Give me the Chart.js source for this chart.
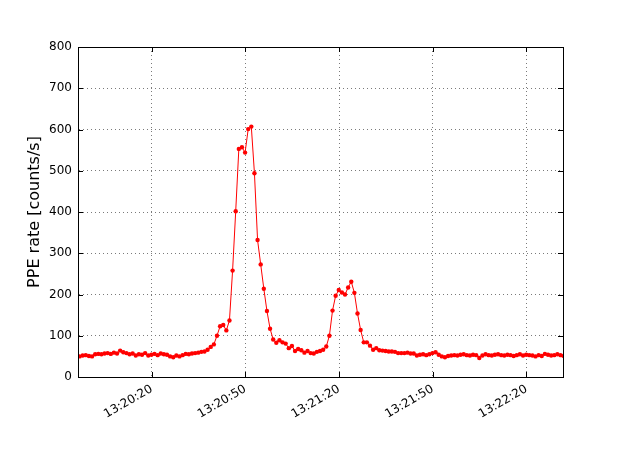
<!DOCTYPE html>
<html>
<head>
<meta charset="utf-8">
<script src="https://cdn.jsdelivr.net/npm/chart.js@4"></script>
<style>
  body { margin: 0; background: #fff; }
</style>
</head>
<body>
<canvas id="rateChart" width="627" height="472"></canvas>
<script>
// PPE rate, one sample per second
const startTime = "13:19:56.9";
const stepSec = 1;
const rateValues = [
  50, 52, 53, 51, 50, 55, 56, 55, 57, 58,
  56, 59, 57, 64, 60, 58, 55, 57, 52, 55,
  54, 58, 52, 54, 56, 53, 57, 55, 54, 50,
  48, 52, 50, 53, 56, 55, 57, 58, 59, 61,
  62, 66, 73, 79, 100, 123, 126, 113, 137, 258,
  402, 553, 557, 544, 601, 607, 494, 332, 273, 214,
  160, 117, 91, 83, 89, 84, 81, 70, 75, 63,
  68, 65, 59, 63, 58, 57, 61, 63, 66, 74,
  100, 161, 197, 211, 205, 200, 217, 231, 204, 154,
  114, 84, 84, 76, 66, 70, 65, 64, 63, 62,
  62, 61, 58, 58, 58, 59, 57, 57, 52, 54,
  55, 53, 55, 58, 60, 54, 50, 48, 51, 52,
  53, 52, 54, 55, 53, 52, 54, 53, 46, 52,
  55, 53, 52, 54, 55, 53, 52, 54, 53, 51,
  53, 55, 52, 54, 53, 52, 50, 53, 51, 56,
  54, 52, 53, 55, 53, 51
];
// visible time range of the axis
const xMinTime = "13:19:56.4";
const xMaxTime = "13:22:31.7";
const xTickLabels = ["13:20:20", "13:20:50", "13:21:20", "13:21:50", "13:22:20"];
const yTicks = [0, 100, 200, 300, 400, 500, 600, 700, 800];

const toSec = (s) => {
  const [h, m, sec] = s.split(":").map(Number);
  return h * 3600 + m * 60 + sec;
};
const pad = (n) => String(n).padStart(2, "0");
const fmtTime = (v) => {
  const t = Math.round(v);
  return pad(Math.floor(t / 3600)) + ":" + pad(Math.floor(t / 60) % 60) + ":" + pad(t % 60);
};

const t0 = toSec(startTime);
const points = rateValues.map((v, i) => ({ x: t0 + i * stepSec, y: v }));

// box round the plot and inward tick marks, as in the original
const frame = {
  id: "frame",
  afterDraw(chart) {
    const { ctx, chartArea: a, scales } = chart;
    ctx.save();
    ctx.strokeStyle = "#000";
    ctx.lineWidth = 1;
    ctx.beginPath();
    scales.x.ticks.forEach((t) => {
      const px = Math.round(scales.x.getPixelForValue(t.value)) + 0.5;
      ctx.moveTo(px, a.bottom); ctx.lineTo(px, a.bottom - 5);
      ctx.moveTo(px, a.top); ctx.lineTo(px, a.top + 5);
    });
    scales.y.ticks.forEach((t) => {
      const py = Math.round(scales.y.getPixelForValue(t.value)) + 0.5;
      ctx.moveTo(a.left, py); ctx.lineTo(a.left + 5, py);
      ctx.moveTo(a.right, py); ctx.lineTo(a.right - 5, py);
    });
    ctx.stroke();
    ctx.strokeRect(Math.round(a.left) + 0.5, Math.round(a.top) + 0.5,
      Math.round(a.right - a.left), Math.round(a.bottom - a.top));
    ctx.restore();
  },
};

const gridStyle = {
  color: "#7a7a7a",
  lineWidth: 1,
  drawTicks: false,
};
// in v4 border.dash sets the dash of the grid lines
const axisBorder = { display: true, color: "#000", dash: [1, 3] };

new Chart(document.getElementById("rateChart").getContext("2d"), {
  type: "line",
  data: {
    datasets: [
      {
        data: points,
        borderColor: "#ff0000",
        borderWidth: 1,
        pointRadius: 2.2,
        pointBackgroundColor: "#ff0000",
        pointBorderWidth: 0,
        tension: 0,
      },
    ],
  },
  options: {
    responsive: false,
    animation: false,
    layout: { padding: { left: 0, top: 47, right: 64, bottom: 0 } },
    plugins: { legend: { display: false }, tooltip: { enabled: false } },
    scales: {
      x: {
        type: "linear",
        min: toSec(xMinTime),
        max: toSec(xMaxTime),
        afterBuildTicks: (scale) => {
          scale.ticks = xTickLabels.map((l) => ({ value: toSec(l) }));
        },
        afterFit: (scale) => { scale.height = 95; },
        grid: gridStyle,
        border: axisBorder,
        ticks: {
          autoSkip: false,
          maxRotation: 30,
          minRotation: 30,
          padding: 5,
          color: "#000",
          font: { family: "DejaVu Sans", size: 12 },
          callback: (v) => fmtTime(v),
        },
      },
      y: {
        min: 0,
        max: 800,
        afterBuildTicks: (scale) => {
          scale.ticks = yTicks.map((v) => ({ value: v }));
        },
        afterFit: (scale) => { scale.width = 78; },
        grid: gridStyle,
        border: axisBorder,
        ticks: {
          padding: 6,
          color: "#000",
          font: { family: "DejaVu Sans", size: 12 },
        },
        title: {
          display: true,
          text: "PPE rate [counts/s]",
          color: "#000",
          font: { family: "DejaVu Sans", size: 16 },
          padding: { top: 25, bottom: 0 },
        },
      },
    },
  },
  plugins: [frame],
});
</script>
</body>
</html>
